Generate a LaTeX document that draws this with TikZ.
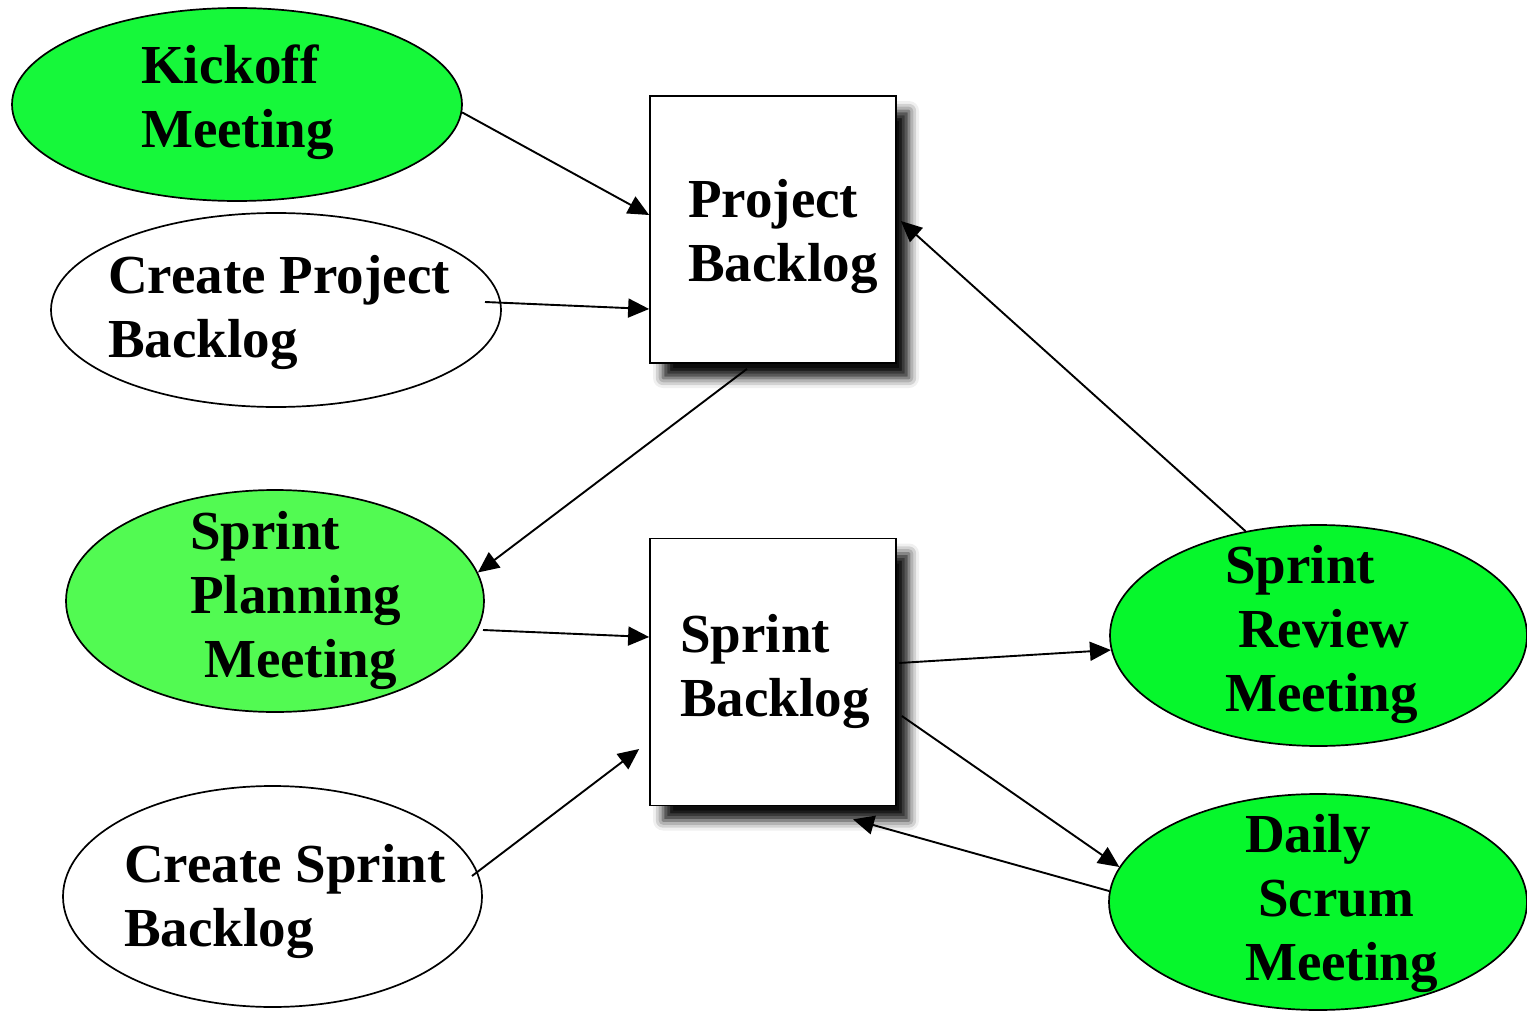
\documentclass[tikz,border=0pt]{standalone}
\usepackage{fontspec}
\setmainfont{Liberation Serif}
\usetikzlibrary{shapes.geometric,arrows.meta,calc,shadows.blur}
\definecolor{kickgreen}{RGB}{22,248,58}
\definecolor{plangreen}{RGB}{82,250,82}
\definecolor{meetgreen}{RGB}{6,247,44}
\tikzset{
  oval/.style={ellipse,draw=black,line width=1.7pt,inner sep=0pt},
  backlog/.style={rectangle,draw=black,line width=1.7pt,fill=white,inner sep=0pt,
    minimum width=246pt,minimum height=267pt,
    blur shadow={shadow xshift=13pt,shadow yshift=-15pt,shadow blur radius=10pt,shadow opacity=95}},
  caption/.style={anchor=base west,align=left,inner sep=0pt,
    font=\fontsize{55}{64}\selectfont\bfseries},
  flow/.style={line width=1.9pt,-{Triangle[length=21pt,width=19pt]}}
}
\begin{document}
\begin{tikzpicture}[x=1pt,y=-1pt]
\useasboundingbox (0,0) rectangle (1527,1011);

% process ovals
\node[oval,fill=kickgreen,minimum width=450pt,minimum height=193pt] (kick) at (237,104.5) {};
\node[oval,fill=white,minimum width=450pt,minimum height=194pt] (cpb) at (276,310) {};
\node[oval,fill=plangreen,minimum width=418pt,minimum height=222pt] (spm) at (275,601) {};
\node[oval,fill=white,minimum width=419pt,minimum height=221pt] (csb) at (272.5,896.5) {};
\node[oval,fill=meetgreen,minimum width=417pt,minimum height=221pt] (srm) at (1318.5,635.5) {};
\node[oval,fill=meetgreen,minimum width=418pt,minimum height=216pt] (dsm) at (1318,902) {};

% backlog boxes
\node[backlog] (pb) at (773,229.5) {};
\node[backlog] (sb) at (773,672) {};

% captions (placed by the baseline of their last line)
\node[caption] (kickT) at (141,148) {Kickoff\\Meeting};
\node[caption] (cpbT) at (108,357) {Create Project\\Backlog};
\node[caption] (spmT) at (190,677) {Sprint\\Planning\\\hspace*{14pt}Meeting};
\node[caption] (csbT) at (124,946) {Create Sprint\\Backlog};
\node[caption] (pbT) at (688,282) {Project\\Backlog};
\node[caption] (sbT) at (680,716) {Sprint\\Backlog};
\node[caption] (srmT) at (1225,711) {Sprint\\\hspace*{13pt}Review\\Meeting};
\node[caption] (dsmT) at (1245,980) {Daily\\\hspace*{13pt}Scrum\\Meeting};

% connectors
\draw[flow] (kick.-2) -- ($(pb.west)+(0,-14.5)$);
\draw[flow] ($(cpb.center)+(209,-8)$) -- ($(pb.west)+(0,79.5)$);
\draw[flow] ($(pb.south)+(-26,5)$) -- (spm.8);
\draw[flow] ($(spm.center)+(208,29)$) -- ($(sb.west)+(0,-35)$);
\draw[flow] ($(csb.center)+(199.5,-20.5)$) -- ($(sb.west)+(-10,77)$);
\draw[flow] ($(sb.east)+(2,-9)$) -- (srm.184);
\draw[flow] ($(sb.east)+(5,44)$) -- (dsm.170);
\draw[flow] (dsm.177) -- ($(sb.south)+(80,13)$);
\draw[flow] (srm.125) -- ($(pb.east)+(4,-8.5)$);
\end{tikzpicture}
\end{document}
